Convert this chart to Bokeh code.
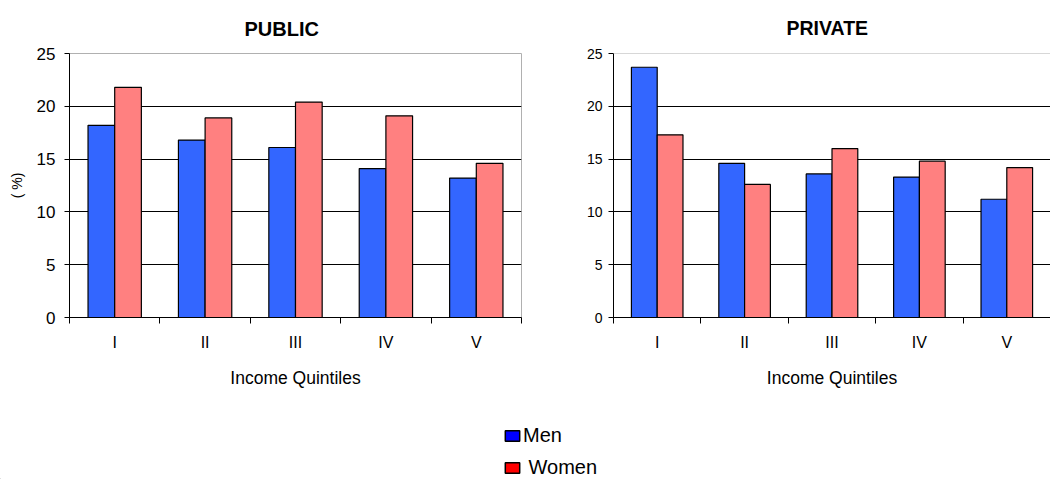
from bokeh.plotting import figure
from bokeh.models import (ColumnDataSource, Range1d, FixedTicker, Span,
                          Legend, LegendItem)
from bokeh.layouts import row, column
from bokeh.transform import dodge
from bokeh.embed import file_html
from bokeh.resources import INLINE

# values (%)
quintiles = ["I", "II", "III", "IV", "V"]
public_men = [18.2, 16.8, 16.1, 14.1, 13.2]
public_women = [21.8, 18.9, 20.4, 19.1, 14.6]
private_men = [23.7, 14.6, 13.6, 13.3, 11.2]
private_women = [17.3, 12.6, 16.0, 14.8, 14.2]
y_ticks = [0, 5, 10, 15, 20, 25]
series = ["Men", "Women"]

FONT = "Liberation Sans"
MEN_COLOR = "#3366FF"
WOMEN_COLOR = "#FF8080"
BAR_W = 0.295


def make_chart(title, men, women, width, border_left, border_right,
               tick_size, label_standoff, title_offset, title_size,
               title_standoff):
    pos = [i + 0.5 for i in range(len(quintiles))]
    src = ColumnDataSource(dict(pos=pos, men=men, women=women))

    p = figure(width=width, height=400, x_range=Range1d(0, 5),
               y_range=Range1d(0, 25), output_backend="svg",
               toolbar_location=None, min_border_left=border_left,
               min_border_right=border_right,
               min_border_top=52, min_border_bottom=83)

    p.vbar(x=dodge("pos", -BAR_W / 2), top="men", width=BAR_W, source=src,
           fill_color=MEN_COLOR, line_color="black", line_width=1.2)
    p.vbar(x=dodge("pos", BAR_W / 2), top="women", width=BAR_W, source=src,
           fill_color=WOMEN_COLOR, line_color="black", line_width=1.2)

    p.title.text = title
    p.title.text_font = FONT
    p.title.text_font_size = title_size
    p.title.text_font_style = "bold"
    p.title.text_color = "black"
    p.title.align = "left"
    p.title.offset = title_offset
    p.title.standoff = title_standoff

    # x axis: labels at category centres, ticks at the boundaries
    xa = p.xaxis[0]
    xa.ticker = FixedTicker(ticks=pos, minor_ticks=list(range(6)))
    xa.major_label_overrides = {pv: q for pv, q in zip(pos, quintiles)}
    xa.major_tick_out = 0
    xa.major_tick_in = 0
    xa.minor_tick_out = 6
    xa.minor_tick_in = 0
    xa.minor_tick_line_color = "black"
    xa.axis_line_color = "black"
    xa.major_label_text_font = FONT
    xa.major_label_text_font_size = "16px"
    xa.major_label_text_color = "black"
    xa.major_label_standoff = 10
    xa.axis_label = "Income Quintiles"
    xa.axis_label_text_font = FONT
    xa.axis_label_text_font_size = "17.5px"
    xa.axis_label_text_font_style = "normal"
    xa.axis_label_text_color = "black"
    xa.axis_label_standoff = 14

    ya = p.yaxis[0]
    ya.ticker = FixedTicker(ticks=y_ticks)
    ya.major_tick_out = 5
    ya.major_tick_in = 0
    ya.minor_tick_line_color = None
    ya.axis_line_color = "black"
    ya.major_tick_line_color = "black"
    ya.major_label_text_font = FONT
    ya.major_label_text_font_size = tick_size
    ya.major_label_text_color = "black"
    ya.major_label_standoff = label_standoff

    p.xgrid.visible = False
    p.ygrid.ticker = FixedTicker(ticks=[5, 10, 15, 20])
    p.ygrid.grid_line_color = "black"
    p.ygrid.grid_line_width = 1
    p.background_fill_color = "white"
    p.border_fill_color = "white"
    return p


p1 = make_chart("PUBLIC", public_men, public_women, 530, 69, 9, "17px",
                9, 175, "20px", 28)
p1.outline_line_color = "#B0B0B0"
p1.yaxis[0].axis_label = "( %)"
p1.yaxis[0].axis_label_text_font = FONT
p1.yaxis[0].axis_label_text_font_size = "14px"
p1.yaxis[0].axis_label_text_font_style = "normal"
p1.yaxis[0].axis_label_text_color = "black"
p1.yaxis[0].axis_label_standoff = 9

p2 = make_chart("PRIVATE", private_men, private_women, 520, 83, 0,
                "14px", 6, 173, "19.5px", 29)
p2.outline_line_color = None
p2.add_layout(Span(location=25, dimension="width", line_color="#B0B0B0",
                   line_width=1))

# legend strip below both charts (solid swatch colours, as in the original)
leg = figure(width=1050, height=79, x_range=Range1d(0, 1),
             y_range=Range1d(0, 1), output_backend="svg",
             toolbar_location=None, min_border=0,
             x_axis_location=None, y_axis_location=None)
leg.outline_line_color = None
leg.xgrid.visible = False
leg.ygrid.visible = False
# one-row proxies placed outside the visible range, used only as swatches
proxy = ColumnDataSource(dict(x=[-5], top=[0]))
sw_men = leg.vbar(x="x", top="top", width=0.1, source=proxy,
                  fill_color="#0000FF", line_color="black", line_width=1.5)
sw_women = leg.vbar(x="x", top="top", width=0.1, source=proxy,
                    fill_color="#FF0000", line_color="black", line_width=1.5)
legend = Legend(items=[LegendItem(label=series[0], renderers=[sw_men]),
                       LegendItem(label="\u00a0" + series[1],
                                  renderers=[sw_women])],
                location=(503, 0), orientation="vertical",
                glyph_width=18, glyph_height=13, label_standoff=2,
                spacing=9, padding=0, margin=0, border_line_color=None,
                background_fill_alpha=0, label_text_font=FONT,
                label_text_color="black",
                label_text_font_size="20px", label_height=20)
leg.add_layout(legend)

layout = column(row(p1, p2), leg)
open("out.html", "w").write(file_html(layout, INLINE))
